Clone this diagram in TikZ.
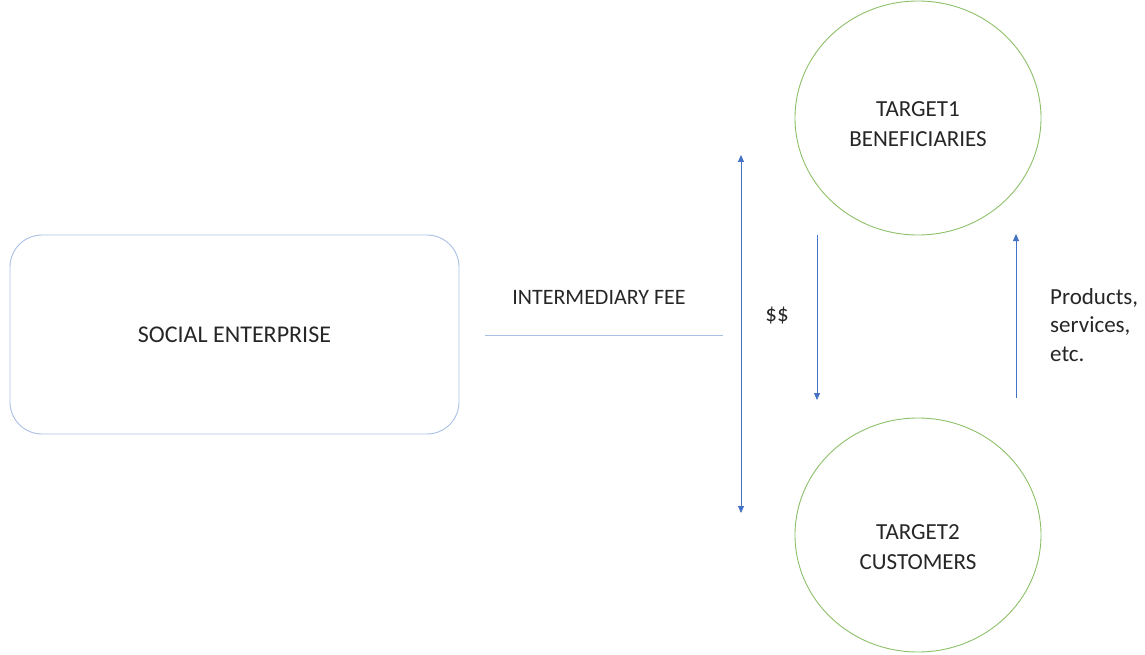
\documentclass[tikz,border=0pt]{standalone}
\usepackage{fontspec}
\setmainfont{Carlito}
\usetikzlibrary{arrows.meta,shapes.geometric}
\definecolor{boxblue}{HTML}{A9BFE6}
\definecolor{arrblue}{HTML}{4472C4}
\definecolor{circgreen}{HTML}{8CC068}
\tikzset{
  lbl/.style={font=\fontsize{23}{28}\selectfont, text=black!85},
  arr/.style={draw=arrblue, line width=0.9pt, -{Triangle[length=7pt,width=6pt]}},
  circ/.style={ellipse, draw=circgreen, line width=0.9pt, minimum width=246pt, minimum height=234pt},
  ctext/.style={align=center, font=\fontsize{23}{30}\selectfont, text=black!85}
}
\begin{document}
\begin{tikzpicture}[x=1pt,y=-1pt]
\useasboundingbox (0,0) rectangle (1145,655);
\node[draw=boxblue, line width=0.9pt, rounded corners=32pt, minimum width=449pt, minimum height=199pt, font=\fontsize{24}{28}\selectfont, text=black!85] (se) at (234.5,334.5) {SOCIAL ENTERPRISE};
\node[circ] (t1) at (918,118) {};
\node[ctext] (t1t) at (918,124) {TARGET1\\BENEFICIARIES};
\node[circ] (t2) at (918,535) {};
\node[ctext] (t2t) at (918,547) {TARGET2\\CUSTOMERS};
\coordinate (l1) at (485,335);
\coordinate (l2) at (723,335);
\draw[draw=boxblue, line width=0.9pt] (l1) -- (l2);
\node[lbl, font=\fontsize{22}{28}\selectfont] (fee) at (599,297) {INTERMEDIARY FEE};
\coordinate (d1) at (741,155);
\coordinate (d2) at (741,513);
\draw[arr, {Triangle[length=7pt,width=6pt]}-{Triangle[length=7pt,width=6pt]}] (d1) -- (d2);
\coordinate (m1) at (817,235);
\coordinate (m2) at (817,400);
\draw[arr] (m1) -- (m2);
\node[lbl] (dd) at (777,316) {\$\$};
\coordinate (u1) at (1016,398);
\coordinate (u2) at (1016,234);
\draw[arr] (u1) -- (u2);
\node[lbl, align=left, anchor=north west, font=\fontsize{23}{28.5}\selectfont, inner sep=0pt] (ps) at (1050,288) {Products,\\services,\\etc.};
\end{tikzpicture}
\end{document}
